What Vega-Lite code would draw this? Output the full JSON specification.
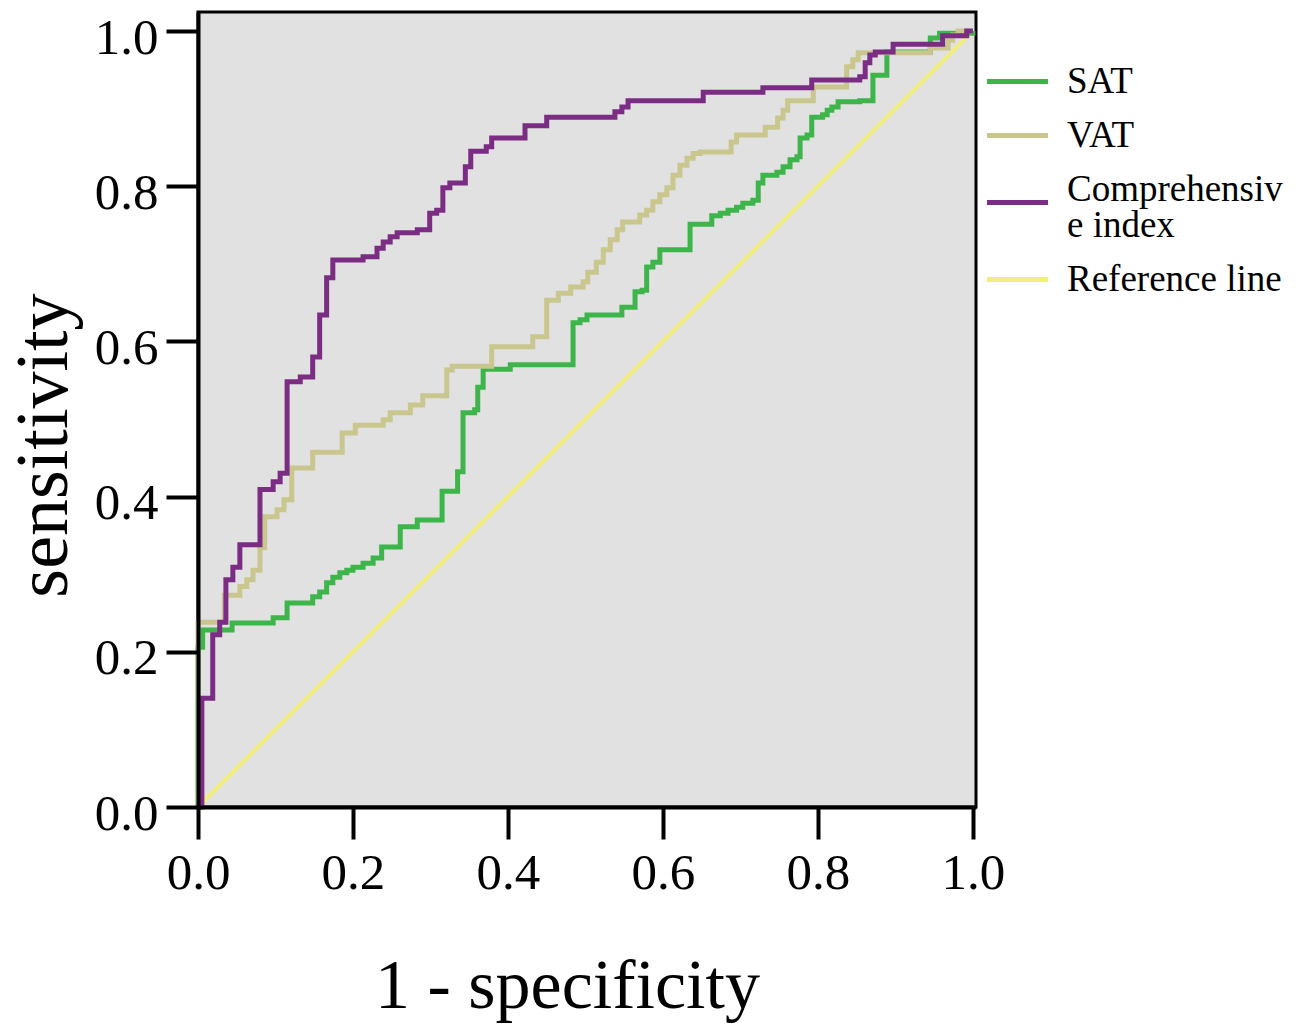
{
  "$schema": "https://vega.github.io/schema/vega-lite/v6.json",
  "width": 778,
  "height": 795,
  "autosize": {"type": "none"},
  "padding": {"left": 198, "top": 12, "right": 325, "bottom": 225},
  "background": "white",
  "config": {
    "view": {"fill": "#e1e1e1", "stroke": "black", "strokeWidth": 3},
    "font": "Liberation Serif"
  },
  "datasets": {
    "ref": [
      {"s": "Reference line", "i": 0, "x": 0, "y": 0},
      {"s": "Reference line", "i": 1, "x": 1, "y": 1}
    ],
    "roc": [
      {"s": "SAT", "i": 0, "x": 0, "y": 0},
      {"s": "SAT", "i": 1, "x": 0, "y": 0.206},
      {"s": "SAT", "i": 2, "x": 0.006, "y": 0.228},
      {"s": "SAT", "i": 3, "x": 0.044, "y": 0.237},
      {"s": "SAT", "i": 4, "x": 0.097, "y": 0.244},
      {"s": "SAT", "i": 5, "x": 0.115, "y": 0.263},
      {"s": "SAT", "i": 6, "x": 0.148, "y": 0.271},
      {"s": "SAT", "i": 7, "x": 0.157, "y": 0.277},
      {"s": "SAT", "i": 8, "x": 0.166, "y": 0.289},
      {"s": "SAT", "i": 9, "x": 0.174, "y": 0.296},
      {"s": "SAT", "i": 10, "x": 0.183, "y": 0.302},
      {"s": "SAT", "i": 11, "x": 0.192, "y": 0.305},
      {"s": "SAT", "i": 12, "x": 0.2, "y": 0.309},
      {"s": "SAT", "i": 13, "x": 0.213, "y": 0.314},
      {"s": "SAT", "i": 14, "x": 0.226, "y": 0.321},
      {"s": "SAT", "i": 15, "x": 0.237, "y": 0.335},
      {"s": "SAT", "i": 16, "x": 0.261, "y": 0.361},
      {"s": "SAT", "i": 17, "x": 0.283, "y": 0.37},
      {"s": "SAT", "i": 18, "x": 0.315, "y": 0.407},
      {"s": "SAT", "i": 19, "x": 0.335, "y": 0.432},
      {"s": "SAT", "i": 20, "x": 0.342, "y": 0.508},
      {"s": "SAT", "i": 21, "x": 0.357, "y": 0.512},
      {"s": "SAT", "i": 22, "x": 0.361, "y": 0.541},
      {"s": "SAT", "i": 23, "x": 0.368, "y": 0.564},
      {"s": "SAT", "i": 24, "x": 0.403, "y": 0.57},
      {"s": "SAT", "i": 25, "x": 0.484, "y": 0.624},
      {"s": "SAT", "i": 26, "x": 0.493, "y": 0.628},
      {"s": "SAT", "i": 27, "x": 0.502, "y": 0.634},
      {"s": "SAT", "i": 28, "x": 0.547, "y": 0.644},
      {"s": "SAT", "i": 29, "x": 0.564, "y": 0.664},
      {"s": "SAT", "i": 30, "x": 0.573, "y": 0.666},
      {"s": "SAT", "i": 31, "x": 0.579, "y": 0.696},
      {"s": "SAT", "i": 32, "x": 0.587, "y": 0.702},
      {"s": "SAT", "i": 33, "x": 0.596, "y": 0.718},
      {"s": "SAT", "i": 34, "x": 0.635, "y": 0.751},
      {"s": "SAT", "i": 35, "x": 0.663, "y": 0.762},
      {"s": "SAT", "i": 36, "x": 0.674, "y": 0.765},
      {"s": "SAT", "i": 37, "x": 0.684, "y": 0.769},
      {"s": "SAT", "i": 38, "x": 0.695, "y": 0.773},
      {"s": "SAT", "i": 39, "x": 0.703, "y": 0.778},
      {"s": "SAT", "i": 40, "x": 0.716, "y": 0.782},
      {"s": "SAT", "i": 41, "x": 0.723, "y": 0.804},
      {"s": "SAT", "i": 42, "x": 0.729, "y": 0.814},
      {"s": "SAT", "i": 43, "x": 0.747, "y": 0.818},
      {"s": "SAT", "i": 44, "x": 0.755, "y": 0.825},
      {"s": "SAT", "i": 45, "x": 0.764, "y": 0.834},
      {"s": "SAT", "i": 46, "x": 0.773, "y": 0.838},
      {"s": "SAT", "i": 47, "x": 0.777, "y": 0.862},
      {"s": "SAT", "i": 48, "x": 0.786, "y": 0.866},
      {"s": "SAT", "i": 49, "x": 0.792, "y": 0.889},
      {"s": "SAT", "i": 50, "x": 0.806, "y": 0.892},
      {"s": "SAT", "i": 51, "x": 0.812, "y": 0.898},
      {"s": "SAT", "i": 52, "x": 0.818, "y": 0.902},
      {"s": "SAT", "i": 53, "x": 0.826, "y": 0.909},
      {"s": "SAT", "i": 54, "x": 0.854, "y": 0.91},
      {"s": "SAT", "i": 55, "x": 0.871, "y": 0.943},
      {"s": "SAT", "i": 56, "x": 0.889, "y": 0.973},
      {"s": "SAT", "i": 57, "x": 0.945, "y": 0.991},
      {"s": "SAT", "i": 58, "x": 0.957, "y": 0.997},
      {"s": "SAT", "i": 59, "x": 1.0, "y": 1.0},
      {"s": "VAT", "i": 0, "x": 0, "y": 0},
      {"s": "VAT", "i": 1, "x": 0, "y": 0.238},
      {"s": "VAT", "i": 2, "x": 0.034, "y": 0.273},
      {"s": "VAT", "i": 3, "x": 0.054, "y": 0.284},
      {"s": "VAT", "i": 4, "x": 0.063, "y": 0.293},
      {"s": "VAT", "i": 5, "x": 0.071, "y": 0.305},
      {"s": "VAT", "i": 6, "x": 0.08, "y": 0.334},
      {"s": "VAT", "i": 7, "x": 0.086, "y": 0.374},
      {"s": "VAT", "i": 8, "x": 0.102, "y": 0.383},
      {"s": "VAT", "i": 9, "x": 0.111, "y": 0.396},
      {"s": "VAT", "i": 10, "x": 0.121, "y": 0.437},
      {"s": "VAT", "i": 11, "x": 0.148, "y": 0.457},
      {"s": "VAT", "i": 12, "x": 0.186, "y": 0.482},
      {"s": "VAT", "i": 13, "x": 0.203, "y": 0.492},
      {"s": "VAT", "i": 14, "x": 0.239, "y": 0.499},
      {"s": "VAT", "i": 15, "x": 0.248, "y": 0.508},
      {"s": "VAT", "i": 16, "x": 0.274, "y": 0.518},
      {"s": "VAT", "i": 17, "x": 0.29, "y": 0.53},
      {"s": "VAT", "i": 18, "x": 0.321, "y": 0.563},
      {"s": "VAT", "i": 19, "x": 0.328, "y": 0.568},
      {"s": "VAT", "i": 20, "x": 0.379, "y": 0.593},
      {"s": "VAT", "i": 21, "x": 0.432, "y": 0.606},
      {"s": "VAT", "i": 22, "x": 0.45, "y": 0.653},
      {"s": "VAT", "i": 23, "x": 0.465, "y": 0.662},
      {"s": "VAT", "i": 24, "x": 0.481, "y": 0.67},
      {"s": "VAT", "i": 25, "x": 0.497, "y": 0.677},
      {"s": "VAT", "i": 26, "x": 0.503, "y": 0.689},
      {"s": "VAT", "i": 27, "x": 0.514, "y": 0.702},
      {"s": "VAT", "i": 28, "x": 0.523, "y": 0.718},
      {"s": "VAT", "i": 29, "x": 0.532, "y": 0.731},
      {"s": "VAT", "i": 30, "x": 0.541, "y": 0.744},
      {"s": "VAT", "i": 31, "x": 0.548, "y": 0.754},
      {"s": "VAT", "i": 32, "x": 0.57, "y": 0.763},
      {"s": "VAT", "i": 33, "x": 0.579, "y": 0.769},
      {"s": "VAT", "i": 34, "x": 0.587, "y": 0.78},
      {"s": "VAT", "i": 35, "x": 0.596, "y": 0.789},
      {"s": "VAT", "i": 36, "x": 0.605, "y": 0.798},
      {"s": "VAT", "i": 37, "x": 0.613, "y": 0.814},
      {"s": "VAT", "i": 38, "x": 0.622, "y": 0.827},
      {"s": "VAT", "i": 39, "x": 0.631, "y": 0.836},
      {"s": "VAT", "i": 40, "x": 0.639, "y": 0.842},
      {"s": "VAT", "i": 41, "x": 0.648, "y": 0.844},
      {"s": "VAT", "i": 42, "x": 0.688, "y": 0.857},
      {"s": "VAT", "i": 43, "x": 0.695, "y": 0.866},
      {"s": "VAT", "i": 44, "x": 0.732, "y": 0.876},
      {"s": "VAT", "i": 45, "x": 0.748, "y": 0.888},
      {"s": "VAT", "i": 46, "x": 0.755, "y": 0.898},
      {"s": "VAT", "i": 47, "x": 0.761, "y": 0.91},
      {"s": "VAT", "i": 48, "x": 0.794, "y": 0.928},
      {"s": "VAT", "i": 49, "x": 0.837, "y": 0.954},
      {"s": "VAT", "i": 50, "x": 0.845, "y": 0.963},
      {"s": "VAT", "i": 51, "x": 0.852, "y": 0.972},
      {"s": "VAT", "i": 52, "x": 0.945, "y": 0.978},
      {"s": "VAT", "i": 53, "x": 0.968, "y": 0.988},
      {"s": "VAT", "i": 54, "x": 0.974, "y": 0.995},
      {"s": "VAT", "i": 55, "x": 0.981, "y": 1.0},
      {"s": "VAT", "i": 56, "x": 1.0, "y": 1.0},
      {"s": "Comprehensive index", "i": 0, "x": 0, "y": 0},
      {"s": "Comprehensive index", "i": 1, "x": 0.005, "y": 0.14},
      {"s": "Comprehensive index", "i": 2, "x": 0.019, "y": 0.222},
      {"s": "Comprehensive index", "i": 3, "x": 0.028, "y": 0.238},
      {"s": "Comprehensive index", "i": 4, "x": 0.036, "y": 0.293},
      {"s": "Comprehensive index", "i": 5, "x": 0.045, "y": 0.309},
      {"s": "Comprehensive index", "i": 6, "x": 0.054, "y": 0.338},
      {"s": "Comprehensive index", "i": 7, "x": 0.08, "y": 0.409},
      {"s": "Comprehensive index", "i": 8, "x": 0.097, "y": 0.419},
      {"s": "Comprehensive index", "i": 9, "x": 0.106, "y": 0.43},
      {"s": "Comprehensive index", "i": 10, "x": 0.115, "y": 0.548},
      {"s": "Comprehensive index", "i": 11, "x": 0.132, "y": 0.554},
      {"s": "Comprehensive index", "i": 12, "x": 0.148, "y": 0.58},
      {"s": "Comprehensive index", "i": 13, "x": 0.157, "y": 0.634},
      {"s": "Comprehensive index", "i": 14, "x": 0.166, "y": 0.682},
      {"s": "Comprehensive index", "i": 15, "x": 0.174, "y": 0.705},
      {"s": "Comprehensive index", "i": 16, "x": 0.213, "y": 0.709},
      {"s": "Comprehensive index", "i": 17, "x": 0.231, "y": 0.72},
      {"s": "Comprehensive index", "i": 18, "x": 0.239, "y": 0.728},
      {"s": "Comprehensive index", "i": 19, "x": 0.248, "y": 0.735},
      {"s": "Comprehensive index", "i": 20, "x": 0.257, "y": 0.74},
      {"s": "Comprehensive index", "i": 21, "x": 0.283, "y": 0.744},
      {"s": "Comprehensive index", "i": 22, "x": 0.299, "y": 0.765},
      {"s": "Comprehensive index", "i": 23, "x": 0.308, "y": 0.769},
      {"s": "Comprehensive index", "i": 24, "x": 0.316, "y": 0.798},
      {"s": "Comprehensive index", "i": 25, "x": 0.325, "y": 0.804},
      {"s": "Comprehensive index", "i": 26, "x": 0.345, "y": 0.825},
      {"s": "Comprehensive index", "i": 27, "x": 0.352, "y": 0.845},
      {"s": "Comprehensive index", "i": 28, "x": 0.372, "y": 0.851},
      {"s": "Comprehensive index", "i": 29, "x": 0.379, "y": 0.862},
      {"s": "Comprehensive index", "i": 30, "x": 0.422, "y": 0.878},
      {"s": "Comprehensive index", "i": 31, "x": 0.45, "y": 0.889},
      {"s": "Comprehensive index", "i": 32, "x": 0.538, "y": 0.896},
      {"s": "Comprehensive index", "i": 33, "x": 0.547, "y": 0.902},
      {"s": "Comprehensive index", "i": 34, "x": 0.555, "y": 0.91},
      {"s": "Comprehensive index", "i": 35, "x": 0.652, "y": 0.921},
      {"s": "Comprehensive index", "i": 36, "x": 0.729, "y": 0.927},
      {"s": "Comprehensive index", "i": 37, "x": 0.792, "y": 0.937},
      {"s": "Comprehensive index", "i": 38, "x": 0.854, "y": 0.941},
      {"s": "Comprehensive index", "i": 39, "x": 0.861, "y": 0.959},
      {"s": "Comprehensive index", "i": 40, "x": 0.867, "y": 0.969},
      {"s": "Comprehensive index", "i": 41, "x": 0.874, "y": 0.973},
      {"s": "Comprehensive index", "i": 42, "x": 0.897, "y": 0.983},
      {"s": "Comprehensive index", "i": 43, "x": 0.961, "y": 0.994},
      {"s": "Comprehensive index", "i": 44, "x": 0.992, "y": 1.0},
      {"s": "Comprehensive index", "i": 45, "x": 1.0, "y": 1.0}
    ]
  },
  "encoding": {
    "x": {
      "field": "x",
      "type": "quantitative",
      "scale": {"domain": [0, 1.004], "nice": false, "zero": false},
      "axis": {
        "title": "1 - specificity",
        "values": [0, 0.2, 0.4, 0.6, 0.8, 1.0],
        "format": ".1f",
        "grid": false,
        "zindex": 1,
        "domainColor": "black",
        "domainWidth": 4,
        "tickColor": "black",
        "tickWidth": 4,
        "tickSize": 32,
        "labelFont": "Liberation Serif",
        "labelFontSize": 51,
        "labelColor": "black",
        "labelPadding": 9,
        "labelFlush": false,
        "labelOverlap": false,
        "titleFont": "Liberation Serif",
        "titleFontSize": 70,
        "titleFontWeight": "normal",
        "titleColor": "black",
        "titleX": 369,
        "titleY": 200,
        "titleBaseline": "alphabetic",
        "titleAlign": "center"
      }
    },
    "y": {
      "field": "y",
      "type": "quantitative",
      "scale": {"domain": [0, 1.0245], "nice": false, "zero": false},
      "axis": {
        "title": "sensitivity",
        "values": [0, 0.2, 0.4, 0.6, 0.8, 1.0],
        "format": ".1f",
        "grid": false,
        "zindex": 1,
        "domainColor": "black",
        "domainWidth": 4,
        "tickColor": "black",
        "tickWidth": 4,
        "tickSize": 32,
        "labelFont": "Liberation Serif",
        "labelFontSize": 51,
        "labelColor": "black",
        "labelPadding": 8,
        "labelOffset": 7,
        "labelFlush": false,
        "labelOverlap": false,
        "titleFont": "Liberation Serif",
        "titleFontSize": 74,
        "titleFontWeight": "normal",
        "titleColor": "black",
        "titleAngle": -90,
        "titleX": -132,
        "titleY": 433,
        "titleBaseline": "alphabetic",
        "titleAlign": "center"
      }
    },
    "color": {
      "field": "s",
      "type": "nominal",
      "scale": {
        "domain": ["SAT", "VAT", "Comprehensive index", "Reference line"],
        "range": ["#3db54a", "#c9c78e", "#7a2d83", "#f2ee7e"]
      },
      "legend": {
        "title": null,
        "orient": "none",
        "legendX": 801,
        "legendY": 51,
        "padding": 0,
        "symbolType": "M-4,0H4",
        "symbolSize": 233,
        "symbolStrokeWidth": 5,
        "labelFont": "Liberation Serif",
        "labelFontSize": 37,
        "labelColor": "black",
        "labelOffset": 31,
        "labelLimit": 400,
        "rowPadding": 16,
        "labelExpr": "datum.label == 'Comprehensive index' ? ['Comprehensiv', 'e index'] : datum.label",
        "encode": {
          "labels": {
            "update": {
              "lineHeight": {"value": 36},
              "dy": {"signal": "datum.label == 'Comprehensive index' ? -13 : 0"}
            }
          }
        }
      }
    }
  },
  "layer": [
    {
      "data": {"name": "ref"},
      "mark": {"type": "line", "strokeWidth": 4}
    },
    {
      "data": {"name": "roc"},
      "mark": {"type": "line", "interpolate": "step-after", "strokeWidth": 5},
      "encoding": {"order": {"field": "i", "type": "quantitative"}}
    }
  ]
}
